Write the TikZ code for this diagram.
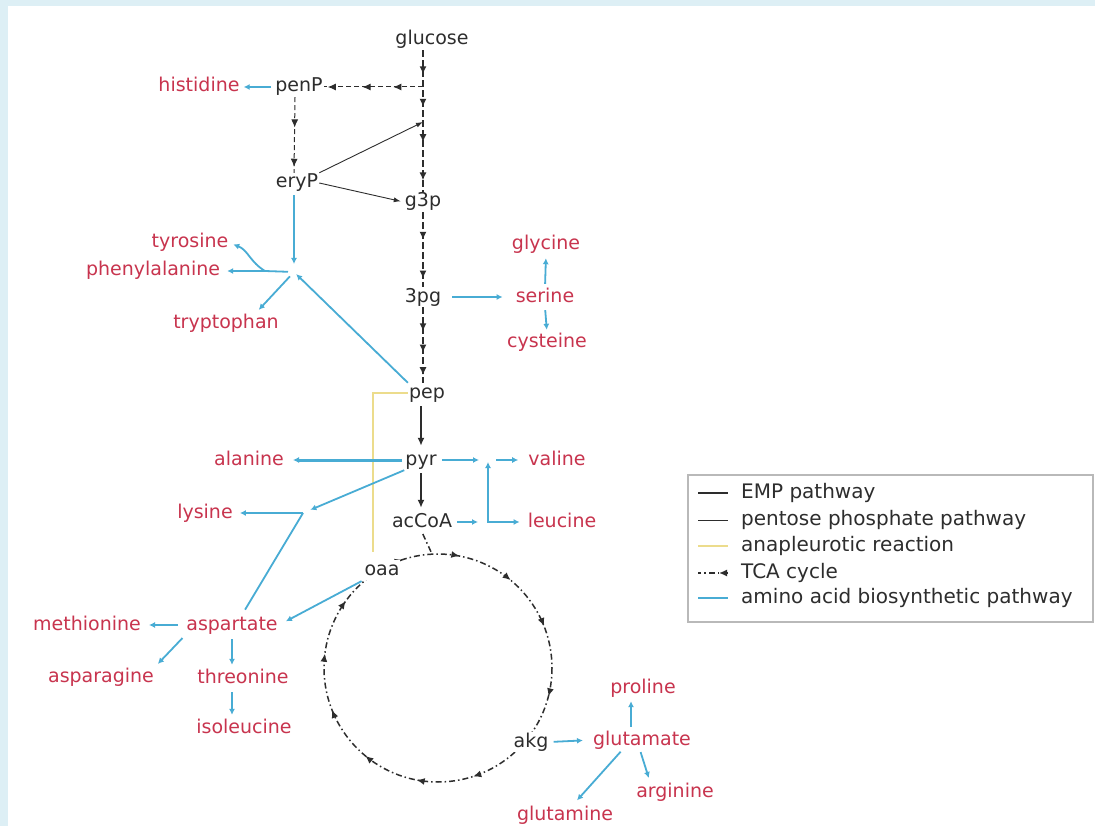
\documentclass[tikz,border=0pt]{standalone}
\usepackage{fontspec}
\setmainfont{DejaVu Sans}
\usetikzlibrary{arrows.meta,decorations.markings}
\definecolor{bgblue}{RGB}{221,239,245}
\definecolor{aared}{RGB}{200,52,78}
\definecolor{aacyan}{RGB}{72,172,212}
\definecolor{anay}{RGB}{236,220,140}
\definecolor{txtk}{RGB}{45,45,45}
\tikzset{
 lbl/.style={inner sep=1pt, font=\fontsize{19}{22}\selectfont, text height=14pt, text depth=4pt},
 met/.style={lbl, text=txtk},
 amino/.style={lbl, text=aared},
 legtxt/.style={inner sep=1pt, anchor=west, text=txtk, font=\fontsize{20}{22}\selectfont, text height=14pt, text depth=4pt},
 emp/.style={draw=txtk, line width=1.8pt, dash pattern=on 7pt off 3pt},
 empsolid/.style={draw=txtk, line width=1.8pt, -{Latex[length=8pt,width=7pt]}},
 ppp/.style={draw=txtk, line width=1pt, dash pattern=on 5pt off 3pt},
 ppsolid/.style={draw=txtk, line width=0.9pt, -{Latex[length=7pt,width=5pt]}},
 ana/.style={draw=anay, line width=2.2pt},
 aal/.style={draw=aacyan, line width=1.8pt, -{Latex[length=6pt,width=6pt]}},
 aaplain/.style={draw=aacyan, line width=1.8pt},
 tca/.style={draw=txtk, line width=1.5pt, dash pattern=on 6pt off 3pt on 1.5pt off 3pt},
 am/.style={postaction={decorate,decoration={markings,mark=at position #1 with {\pgfsetdash{}{0pt}\arrow{Latex[length=8pt,width=7pt]}}}}},
}
\begin{document}
\begin{tikzpicture}[x=1pt,y=-1pt]
\fill[bgblue] (0,0) rectangle (1095,826);
\fill[white] (8,6) rectangle (1095,826);
\useasboundingbox (0,0) rectangle (1095,826);

% TCA cycle
\coordinate (tcac) at (438,668);
\coordinate (tcatop) at (432,554);
\draw[tca, am=0.04, am=0.12, am=0.20, am=0.28, am=0.36, am=0.44, am=0.52, am=0.60, am=0.70, am=0.78, am=0.86, am=0.94] (tcac) circle [radius=114];

% metabolites
\node[met] (glucose) at (432,40) {glucose};
\node[met] (penP) at (299,87) {penP};
\node[met] (eryP) at (297,183) {eryP};
\node[met] (g3p) at (423,202) {g3p};
\node[met] (3pg) at (423,297) {3pg};
\node[met] (pep) at (427,393) {pep};
\node[met] (pyr) at (421,460) {pyr};
\node[met] (acCoA) at (422,522) {acCoA};
\node[met, fill=white] (oaa) at (382,570) {oaa};
\node[met, fill=white] (akg) at (531,742) {akg};

% amino acids
\node[amino] (histidine) at (199,87) {histidine};
\node[amino] (tyrosine) at (190,243) {tyrosine};
\node[amino] (phenylalanine) at (153,271) {phenylalanine};
\node[amino] (tryptophan) at (226,323) {tryptophan};
\node[amino] (glycine) at (546,245) {glycine};
\node[amino] (serine) at (545,297) {serine};
\node[amino] (cysteine) at (547,343) {cysteine};
\node[amino] (alanine) at (249,460) {alanine};
\node[amino] (valine) at (557,460) {valine};
\node[amino] (leucine) at (562,522) {leucine};
\node[amino] (lysine) at (205,513) {lysine};
\node[amino] (aspartate) at (232,625) {aspartate};
\node[amino] (methionine) at (87,625) {methionine};
\node[amino] (asparagine) at (101,677) {asparagine};
\node[amino] (threonine) at (243,678) {threonine};
\node[amino] (isoleucine) at (244,728) {isoleucine};
\node[amino] (glutamate) at (642,740) {glutamate};
\node[amino] (proline) at (643,688) {proline};
\node[amino] (arginine) at (675,792) {arginine};
\node[amino] (glutamine) at (565,815) {glutamine};

% junctions
\coordinate (J1) at (294,272);
\coordinate (J1b) at (265,271);
\coordinate (J2) at (303,513);
\coordinate (Jv) at (488,460);
\coordinate (Jl) at (488,522);
\coordinate (anabot) at (373,552);

% anapleurotic
\draw[ana] (pep.west) -| (anabot);

% EMP pathway
\draw[emp, am=0.17, am=0.40, am=0.65, am=0.92] (glucose.south -| g3p.north) -- (g3p.north);
\draw[emp, am=0.37, am=0.89] (g3p.south) -- (g3p.south |- 3pg.north);
\draw[emp, am=0.32, am=0.60, am=0.9] (3pg.south) -- (3pg.south |- pep.north);
\draw[empsolid, shorten <=3pt, shorten >=4pt] (pep.south -| pyr.north) -- (pyr.north);
\draw[empsolid, shorten <=3pt, shorten >=4pt] (pyr.south) -- (pyr.south |- acCoA.north);
\draw[tca, shorten <=2pt] (acCoA.south) -- (tcatop);

% pentose phosphate pathway
\draw[ppp, am=0.30, am=0.61, am=0.96] (g3p.north |- penP.east) -- (penP.east);
\draw[ppp, am=0.40, am=0.92] ([xshift=-4pt]penP.south) -- ([xshift=-3pt]eryP.north);
\draw[ppsolid] (eryP.north east) -- (g3p.north |- 0,122);
\draw[ppsolid, shorten >=3pt] (eryP.east) -- (g3p.west);

% amino acid biosynthesis
\draw[aal, shorten <=3pt, shorten >=3pt] (penP.west) -- (histidine.east);
\draw[aal, shorten <=2pt, shorten >=8pt] (eryP.south -| J1) -- (J1);
\draw[aal, shorten >=3pt] (pep.north west) -- (J1);
\draw[aaplain, shorten <=6pt] (J1) -- (J1b);
\draw[aal, shorten >=6pt] (J1b) -- (phenylalanine.east);
\draw[aal, shorten >=4pt] (J1b) .. controls (250,262) and (248,250) .. (tyrosine.east);
\draw[aal, shorten <=6pt, shorten >=4pt] (J1) -- ([xshift=30pt]tryptophan.north);
\draw[aal, shorten <=10pt, shorten >=12pt] (3pg.east) -- (serine.west);
\draw[aal, shorten <=3pt, shorten >=3pt] (serine.north) -- (glycine.south);
\draw[aal, shorten <=3pt, shorten >=3pt] (serine.south) -- (cysteine.north);
\draw[aal, line width=3pt, shorten <=2pt, shorten >=8pt] (pyr.west) -- (alanine.east);
\draw[aal, shorten <=4pt, shorten >=9pt] (pyr.east) -- (Jv);
\draw[aal, shorten <=8pt, shorten >=9pt] (Jv) -- (valine.west);
\draw[aal, shorten >=2pt] (Jl) -- (Jv);
\draw[aal, shorten <=-1pt, shorten >=7pt] (Jl) -- (leucine.west);
\draw[aal, shorten <=4pt, shorten >=10pt] (acCoA.east) -- (Jl);
\draw[aal, shorten >=8pt] (pyr.south west) -- (J2);
\draw[aal, shorten >=6pt] (J2) -- (lysine.east);
\draw[aaplain, shorten <=6pt] ([xshift=10pt]aspartate.north) -- (J2);
\draw[aal, shorten <=2pt, shorten >=8pt] (oaa.south west) -- (aspartate.east);
\draw[aal, shorten <=7pt, shorten >=7pt] (aspartate.west) -- (methionine.east);
\draw[aal, shorten <=4pt, shorten >=4pt] (aspartate.south west) -- (asparagine.north east);
\draw[aal, shorten <=4pt, shorten >=3pt] (aspartate.south) -- (aspartate.south |- threonine.north);
\draw[aal, shorten <=4pt, shorten >=3pt] (aspartate.south |- threonine.south) -- (aspartate.south |- isoleucine.north);
\draw[aal, shorten <=4pt, shorten >=9pt] (akg.east) -- (glutamate.west);
\draw[aal, shorten <=3pt, shorten >=3pt] ([xshift=-11pt]glutamate.north) -- ([xshift=-12pt]proline.south);
\draw[aal, shorten <=2pt, shorten >=4pt] ([xshift=-2pt]glutamate.south) -- ([xshift=-25pt]arginine.north);
\draw[aal, shorten <=2pt, shorten >=6pt] ([xshift=-20pt]glutamate.south) -- ([xshift=8pt]glutamine.north);

% legend
\node[draw=gray!55, line width=1.2pt, fill=white, minimum width=405pt, minimum height=147pt, inner sep=0pt] (legbox) at (890.5,548.5) {};
\node[legtxt] (l1) at (740,493) {EMP pathway};
\node[legtxt] (l2) at (740,520) {pentose phosphate pathway};
\node[legtxt] (l3) at (740,546) {anapleurotic reaction};
\node[legtxt] (l4) at (740,573) {TCA cycle};
\node[legtxt] (l5) at (740,598) {amino acid biosynthetic pathway};
\draw[draw=txtk, line width=1.8pt] (698,493) -- (728,493);
\draw[draw=txtk, line width=0.9pt] (698,520) -- (728,520);
\draw[ana] (698,546) -- (728,546);
\draw[tca, am=0.3] (728,573) -- (698,573);
\draw[aaplain] (698,598) -- (728,598);
\end{tikzpicture}
\end{document}
